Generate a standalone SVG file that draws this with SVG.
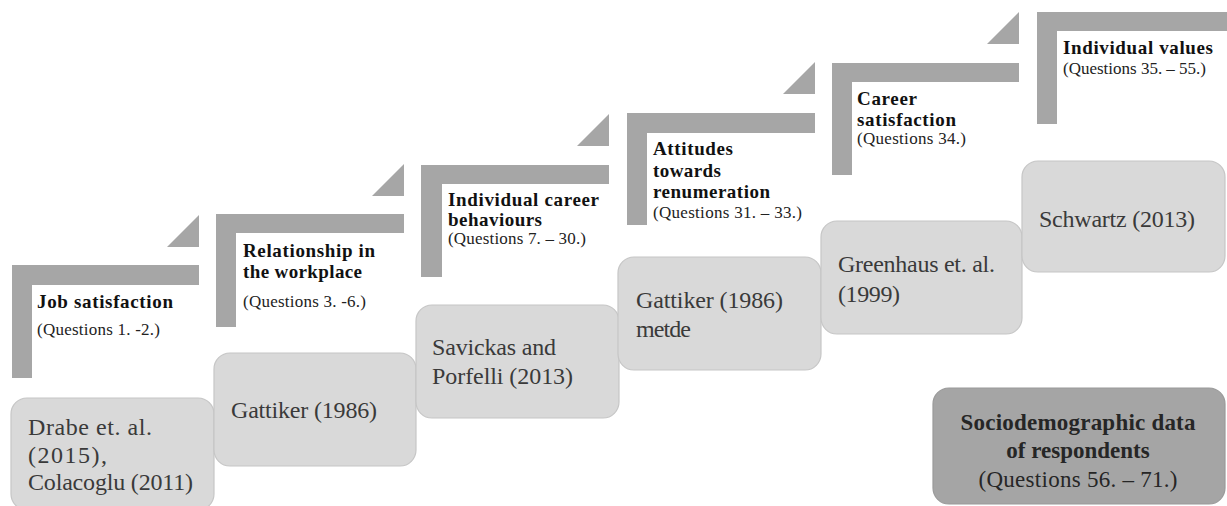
<svg xmlns="http://www.w3.org/2000/svg" width="1227" height="506" viewBox="0 0 1227 506">
<style>
.bar{fill:#a6a6a6}
.box{fill:#d9d9d9;stroke:#c6c6c6;stroke-width:1.2}
.dbox{fill:#a5a5a5;stroke:#9a9a9a;stroke-width:1.2}
text{font-family:"Times New Roman","Liberation Serif",Tinos,serif}
.bt{font-size:24px;fill:#3a3a3a}
.lb{font-size:19px;font-weight:bold;fill:#111}
.lq{font-size:17px;fill:#222}
.db{font-size:23px;font-weight:bold;fill:#262626;text-anchor:middle}
.dq{font-size:23px;fill:#262626;text-anchor:middle}
</style>
<g id="connectors">
<polygon class="bar" points="199,215 199,247 167,247"/>
<polygon class="bar" points="404,164 404,196 372,196"/>
<polygon class="bar" points="609,114 609,146 577,146"/>
<polygon class="bar" points="815,62 815,94 783,94"/>
<polygon class="bar" points="1019,12 1019,44 987,44"/>
</g>
<g id="step1">
<path class="bar" d="M12,265 H199 V285 H32 V378 H12 Z"/>
<text class="lb" x="37" y="308" textLength="136" lengthAdjust="spacing">Job satisfaction</text>
<text class="lq" x="37" y="335" textLength="123" lengthAdjust="spacing">(Questions 1. -2.)</text>
</g>
<g id="step2">
<path class="bar" d="M216,214 H404 V233 H236 V327 H216 Z"/>
<text class="lb" x="243" y="257" textLength="132" lengthAdjust="spacing">Relationship in</text>
<text class="lb" x="243" y="278" textLength="119" lengthAdjust="spacing">the workplace</text>
<text class="lq" x="243" y="307" textLength="123" lengthAdjust="spacing">(Questions 3. -6.)</text>
</g>
<g id="step3">
<path class="bar" d="M421,165 H609 V184 H442 V277 H421 Z"/>
<text class="lb" x="448" y="206" textLength="151" lengthAdjust="spacing">Individual career</text>
<text class="lb" x="448" y="226" textLength="94" lengthAdjust="spacing">behaviours</text>
<text class="lq" x="448" y="244" textLength="138" lengthAdjust="spacing">(Questions 7. – 30.)</text>
</g>
<g id="step4">
<path class="bar" d="M627,113 H815 V133 H647 V225 H627 Z"/>
<text class="lb" x="653" y="155" textLength="80" lengthAdjust="spacing">Attitudes</text>
<text class="lb" x="653" y="177" textLength="68" lengthAdjust="spacing">towards</text>
<text class="lb" x="653" y="198" textLength="117" lengthAdjust="spacing">renumeration</text>
<text class="lq" x="653" y="218" textLength="149" lengthAdjust="spacing">(Questions 31. – 33.)</text>
</g>
<g id="step5">
<path class="bar" d="M832,63 H1019 V82 H852 V175 H832 Z"/>
<text class="lb" x="857" y="105" textLength="60" lengthAdjust="spacing">Career</text>
<text class="lb" x="857" y="126" textLength="99" lengthAdjust="spacing">satisfaction</text>
<text class="lq" x="857" y="144" textLength="109" lengthAdjust="spacing">(Questions 34.)</text>
</g>
<g id="step6">
<path class="bar" d="M1037,12 H1227 V31 H1057 V124 H1037 Z"/>
<text class="lb" x="1063" y="54" textLength="150" lengthAdjust="spacing">Individual values</text>
<text class="lq" x="1063" y="74" textLength="143" lengthAdjust="spacing">(Questions 35. – 55.)</text>
</g>
<g id="source1">
<rect class="box" x="11" y="398" width="203" height="112" rx="16"/>
<text class="bt" x="28" y="435" textLength="124" lengthAdjust="spacing">Drabe et. al.</text>
<text class="bt" x="28" y="463" textLength="79" lengthAdjust="spacing">(2015),</text>
<text class="bt" x="28" y="490" textLength="165" lengthAdjust="spacing">Colacoglu (2011)</text>
</g>
<g id="source2">
<rect class="box" x="214" y="353" width="202" height="113" rx="16"/>
<text class="bt" x="231" y="418" textLength="146" lengthAdjust="spacing">Gattiker (1986)</text>
</g>
<g id="source3">
<rect class="box" x="416" y="305" width="203" height="113" rx="16"/>
<text class="bt" x="432" y="355" textLength="124" lengthAdjust="spacing">Savickas and</text>
<text class="bt" x="432" y="384" textLength="141" lengthAdjust="spacing">Porfelli (2013)</text>
</g>
<g id="source4">
<rect class="box" x="618" y="257" width="203" height="113" rx="16"/>
<text class="bt" x="636" y="308" textLength="147" lengthAdjust="spacing">Gattiker (1986)</text>
<text class="bt" x="636" y="337" textLength="55" lengthAdjust="spacing">metde</text>
</g>
<g id="source5">
<rect class="box" x="821" y="221" width="201" height="113" rx="16"/>
<text class="bt" x="838" y="272" textLength="157" lengthAdjust="spacing">Greenhaus et. al.</text>
<text class="bt" x="838" y="302" textLength="62" lengthAdjust="spacing">(1999)</text>
</g>
<g id="source6">
<rect class="box" x="1022" y="161" width="203" height="111" rx="16"/>
<text class="bt" x="1039" y="227" textLength="156" lengthAdjust="spacing">Schwartz (2013)</text>
</g>
<g id="sociodemographic">
<rect class="dbox" x="933" y="388" width="292" height="116" rx="16"/>
<text class="db" x="1078" y="430" textLength="235" lengthAdjust="spacing">Sociodemographic data</text>
<text class="db" x="1078" y="458">of respondents</text>
<text class="dq" x="1078" y="487" textLength="199" lengthAdjust="spacing">(Questions 56. – 71.)</text>
</g>
</svg>
